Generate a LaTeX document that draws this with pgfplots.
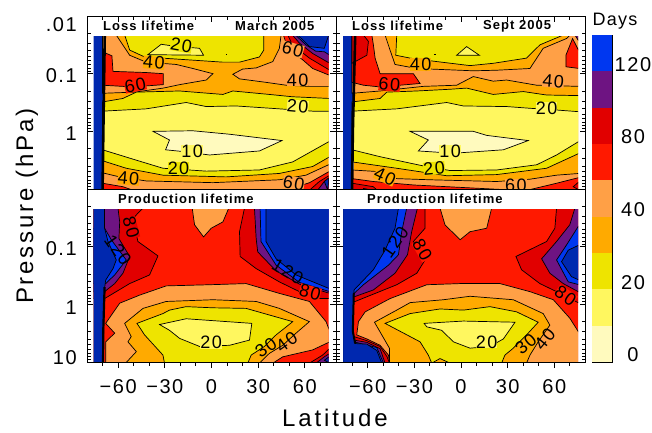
\documentclass[border=0pt]{standalone}
\usepackage{fontspec}
\usepackage{pgfplots}
\pgfplotsset{compat=1.18}
\setmainfont{Liberation Sans}
\newfontfamily\tickfam[LetterSpace=8]{Liberation Sans}
\newfontfamily\axfam[LetterSpace=12]{Liberation Sans}
\newfontfamily\daysfam[LetterSpace=7]{Liberation Sans}
\newfontfamily\titlefam[LetterSpace=8,BoldFont={Liberation Sans Bold}]{Liberation Sans}
\newcommand{\tickf}{\tickfam\fontsize{20}{20}\selectfont}
\newcommand{\labf}{\tickfam\fontsize{18}{18}\selectfont}
\newcommand{\sh}[2]{\raisebox{#1}[14pt][0pt]{#2}}
\definecolor{cA}{RGB}{255,250,190}
\definecolor{cB}{RGB}{255,247,95}
\definecolor{cC}{RGB}{238,228,0}
\definecolor{cD}{RGB}{255,170,0}
\definecolor{cE}{RGB}{255,160,70}
\definecolor{cF}{RGB}{255,25,0}
\definecolor{cG}{RGB}{225,0,0}
\definecolor{cH}{RGB}{110,20,130}
\definecolor{cI}{RGB}{0,55,240}
\definecolor{cJ}{RGB}{0,40,175}
\newcommand{\poly}[2]{\addplot[fill=#1,draw=black,line width=.7pt] coordinates {#2} -- cycle;}
\newcommand{\solid}[2]{\addplot[fill=#1,draw=none] coordinates {#2} -- cycle;}
\newcommand{\minorlist}{-1.699,-1.523,-1.398,-1.301,-1.222,-1.155,-1.097,-1.046,-0.699,-0.523,-0.398,-0.301,-0.222,-0.155,-0.097,-0.046,0.301,0.477,0.602,0.699,0.778,0.845,0.903,0.954}
\tikzset{lab/.style={font=\labf,inner sep=0pt,fill=#1},labn/.style={font=\labf,inner sep=0pt}}
\pgfplotsset{
 inner/.style={scale only axis,hide axis,anchor=south west,width=235.15pt,height=152.8pt,y dir=reverse,
   xmin=-75.8,xmax=75.3,ymin=-1.65,ymax=1,clip=true},
 frame/.style={scale only axis,anchor=south west,width=249pt,height=173pt,y dir=reverse,
   xmin=-80,xmax=80,ymin=-2,ymax=1,clip=false,axis line style={line width=1pt},
   xtick={-60,-30,0,30,60},minor xtick={-70,-50,-40,-20,-10,10,20,40,50,70},
   minor ytick=\minorlist,ytick pos=both,ytick align=inside,
   every tick/.style={black,line width=.9pt},
   major tick length=6pt,minor tick length=3.5pt,
   ticklabel style={font=\tickf},
   yticklabel style={inner sep=0pt,xshift=-10pt},
   xticklabel style={inner sep=0pt,yshift=-11pt}},
 topf/.style={frame,xtick pos=top,xtick align=inside,xticklabels={},
   ytick={-2,-1,0}},
 botf/.style={frame,xtick pos=bottom,xtick align=outside,
   xticklabels={−60,−30,0,30,60},ytick={-1,0,1}},
}
\begin{document}
\begin{tikzpicture}
\path[use as bounding box] (0,0) rectangle (652pt,432pt);
% ---------- top left: loss lifetime, March 2005 ----------
\begin{axis}[inner,at={(93.54pt,243pt)}]
\solid{cJ}{(-76,-1.67)(-68.5,-1.67)(-69.5,0)(-70,1)(-76,1)}
\solid{cD}{(-69,-1.67)(76,-1.67)(76,1)(-69,1)}
\poly{cE}{(-70,-1.67)(-61.2,-1.67)(-57,-1.5)(-52.6,-1.32)(-42,-1.2)(-22.7,-1.16)(-12,-1.09)(0.9,-1)(-3.4,-.89)(-20.5,-.81)(-31,-.75)(-49.4,-.68)(-70,-.66)}
\poly{cC}{(-55.8,-1.67)(-52.6,-1.41)(-43,-1.29)(-20.5,-1.25)(7.3,-1.2)(18,-1.2)(30.8,-1.29)(33.6,-1.41)(33.6,-1.67)}
\poly{cB}{(-40.9,-1.33)(-32.3,-1.51)(-24.8,-1.48)(-7.7,-1.44)(-5.1,-1.32)}
\poly{cF}{(-70,-1.38)(-64,-1.31)(-63.3,-1.04)(-42,-1.02)(-31,-1)(-31,-.81)(-50.5,-.77)(-70,-.8)}
\poly{cE}{(44.7,-1.67)(43.6,-1.44)(39.4,-1.21)(28.7,-1.1)(20,-1.08)(13.7,-.99)(18,-.91)(35,-.85)(48,-.8)(63,-.78)(76,-.78)(76,-1.67)}
\poly{cF}{(46.2,-1.67)(49,-1.44)(58.6,-1.24)(65,-1.09)(76,-.97)(76,-1.67)}
\poly{cG}{(49,-1.67)(52,-1.5)(62.9,-1.27)(76,-1.06)(76,-1.67)}
\poly{cH}{(52,-1.67)(56.5,-1.53)(65,-1.35)(76,-1.18)(76,-1.67)}
\poly{cI}{(54,-1.67)(60.7,-1.5)(67,-1.39)(72.5,-1.38)(76,-1.32)(76,-1.67)}
\poly{cJ}{(55.4,-1.67)(63,-1.47)(72.5,-1.44)(75.3,-1.67)}
\addplot[black,line width=1.2pt] coordinates {(9.2,-1.33)(10,-1.33)};
\poly{cC}{(-70,-.51)(-57,-.57)(-48.3,-.68)(-20.5,-.7)(7.3,-.64)(13.7,-.7)(37.2,-.64)(52,-.6)(76,-.57)(76,.44)(65,.61)(43.6,.73)(9.4,.79)(-31.2,.76)(-54.8,.64)(-70,.51)}
\poly{cB}{(-70,-.35)(-42,-.39)(-16.3,-.5)(-3.4,-.43)(15.8,-.44)(43.6,-.39)(65,-.35)(76,-.35)(76,.17)(52.2,.53)(30.8,.67)(-3.4,.69)(-31.2,.64)(-48.3,.5)(-70,.32)}
\poly{cA}{(-37.6,0)(-12,-.01)(11.6,.05)(45.3,.16)(30.8,.34)(-1.3,.41)(-18.4,.35)(-29.5,.32)(-27,.15)}
\poly{cE}{(-70,.72)(-59,.79)(-42,.86)(0.9,.89)(43.6,.84)(60.7,.76)(76,.57)(76,1.02)(-70,1.02)}
\poly{cF}{(-70,.9)(-57,.96)(-50.5,1.02)(-70,1.02)}
\poly{cF}{(48,1.02)(63,.89)(76,.69)(76,1.02)}
\poly{cG}{(63,1.02)(69.3,.87)(76,.76)(76,1.02)}
\poly{cH}{(68.2,1.02)(72.5,.87)(76,.8)(76,1.02)}
\poly{cJ}{(72.5,.87)(75.3,.81)(74.7,1.02)}
\addplot[black,line width=2.6pt] coordinates {(-68.6,-1.67)(-69.5,0)(-70,1)};
\end{axis}
\begin{axis}[topf,at={(87pt,243pt)},yticklabels={\sh{-8pt}{.01},\sh{-2pt}{0.1},\sh{-2pt}{1}}]
\node[lab=cC,rotate=-10] at (axis cs:-19.5,-1.49) {20};
\node[lab=cD,rotate=-5] at (axis cs:-37,-1.19) {40};
\node[lab=cF,rotate=12] at (axis cs:-49,-.8) {60};
\node[lab=cE,rotate=-15] at (axis cs:52.2,-1.42) {60};
\node[lab=cE] at (axis cs:55.4,-.89) {40};
\node[lab=cB,rotate=-5] at (axis cs:55.4,-.43) {20};
\node[lab=cB] at (axis cs:-12.4,.35) {10};
\node[lab=cC] at (axis cs:-21.2,.64) {20};
\node[lab=cD,rotate=-5] at (axis cs:-53.3,.82) {40};
\node[lab=cE,rotate=-10] at (axis cs:52.8,.9) {60};
\end{axis}
% ---------- top right: loss lifetime, Sept 2005 ----------
\begin{axis}[inner,at={(343.04pt,243pt)}]
\solid{cJ}{(-76,-1.67)(-68,-1.67)(-69.5,0)(-70,1)(-76,1)}
\solid{cD}{(-69,-1.67)(76,-1.67)(76,1)(-69,1)}
\poly{cE}{(-70,-1.67)(-48.8,-1.67)(-45.6,-1.41)(-42.4,-1.16)(-28.4,-1.09)(7.9,-1.05)(22.9,-1.06)(44.3,-1.09)(52.8,-1.44)(67.8,-1.61)(70,-1.67)(76,-1.67)(76,-.78)(48.6,-.8)(29.3,-.89)(20.7,-.87)(7.9,-.95)(-2.8,-.8)(-24.2,-.78)(-52,-.7)(-70,-.66)}
\poly{cC}{(-41.3,-1.67)(-41.9,-1.32)(-32.7,-1.27)(-15.6,-1.21)(5.8,-1.14)(20.7,-1.18)(42.1,-1.27)(50.7,-1.5)(65.7,-1.67)}
\poly{cB}{(-2.8,-1.32)(3.6,-1.47)(11.8,-1.32)}
\addplot[black,line width=1.2pt] coordinates {(-17.5,-1.33)(-16,-1.33)};
\poly{cF}{(-70,-1.67)(-57.3,-1.67)(-56.3,-1.5)(-55.2,-1.27)(-52,-1)(-30.6,-1)(-26.3,-.83)(-52,-.77)(-62.7,-.8)(-70,-.85)}
\poly{cG}{(-70,-1.67)(-62.7,-1.67)(-59.5,-1.56)(-60.5,-1.32)(-70,-1.18)}
\poly{cF}{(67.4,-1.32)(71.7,-1.61)(76,-1.38)(76,-1.09)(67.4,-1.12)}
\poly{cH}{(73.2,-1.67)(76,-1.67)(76,-1.55)}
\poly{cC}{(-70,-.51)(-52,-.57)(-47.7,-.68)(-28.4,-.7)(-7,-.73)(3.6,-.75)(20.7,-.64)(40,-.69)(55,-.63)(76,-.62)(76,.38)(55,.64)(22.9,.75)(-9.2,.77)(-41.3,.64)(-70,.53)}
\poly{cB}{(-70,-.35)(-41.3,-.39)(-9.2,-.5)(1.5,-.44)(29.3,-.43)(44.3,-.4)(61.4,-.37)(76,-.34)(76,.17)(61.4,.41)(48.6,.58)(22.9,.67)(-7,.68)(-24.2,.6)(-52,.44)(-70,.32)}
\poly{cA}{(-32.7,0)(7.9,0)(16.5,.07)(43.2,.16)(27.2,.32)(-4.9,.38)(-27.4,.34)(-21,.15)}
\poly{cE}{(-70,.67)(-52,.7)(-41.3,.82)(-19.9,.84)(22.9,.87)(44.3,.83)(61.4,.76)(76,.73)(76,1.02)(-70,1.02)}
\poly{cF}{(-70,.82)(-56.3,.87)(-30.6,.93)(27.2,1.01)(44.3,1.01)(61.4,.9)(76,.8)(76,1.02)(-70,1.02)}
\poly{cG}{(-70,.9)(-56.3,.96)(-54,1.02)(-70,1.02)}
\poly{cH}{(-62.7,.99)(-57,1.02)(-62.7,1.02)}
\poly{cG}{(72.1,.96)(76,.87)(76,1.02)}
\addplot[black,line width=2.6pt] coordinates {(-68,-1.67)(-69.5,0)(-70,1)};
\end{axis}
\begin{axis}[topf,at={(336.5pt,243pt)},yticklabels={}]
\node[lab=cD] at (axis cs:-25.9,-1.16) {40};
\node[lab=cF,rotate=-5] at (axis cs:-46,-.81) {60};
\node[lab=cE,rotate=-5] at (axis cs:59.3,-.87) {40};
\node[lab=cB] at (axis cs:55,-.4) {20};
\node[lab=cB] at (axis cs:-7,.34) {10};
\node[lab=cC,rotate=5] at (axis cs:-17.3,.64) {20};
\node[lab=cD,rotate=-25] at (axis cs:-48.8,.78) {40};
\node[lab=cE] at (axis cs:35.3,.93) {60};
\end{axis}
% white band that ends the upper panels
\fill[white] (88pt,224pt) rectangle (584pt,242.5pt);
% ---------- bottom left: production lifetime, March ----------
\begin{axis}[inner,at={(93.54pt,70pt)}]
\solid{cF}{(-76,-1.67)(76,-1.67)(76,1.02)(-76,1.02)}
\poly{cG}{(-76,-1.67)(-44,-1.67)(-50.5,-1.49)(-47.3,-1.09)(-34.4,-.84)(-39.8,-.51)(-52.6,-.36)(-68.7,-.1)(-76,-.1)}
\poly{cH}{(-76,-1.67)(-60.1,-1.67)(-59,-1.43)(-59.5,-1.14)(-52.6,-.83)(-56.9,-.54)(-62.2,-.36)(-68.7,-.22)(-76,-.22)}
\poly{cI}{(-68.7,-1.32)(-64.4,-1.12)(-54.8,-.77)(-62.2,-.51)(-68,-.36)(-76,-.36)(-76,-1.32)}
\poly{cE}{(-12.4,-1.67)(-10.9,-1.38)(-5.1,-1.17)(-.2,-1.32)(7.3,-1.43)(11.1,-1.67)}
\poly{cG}{(21.2,-1.67)(18,-1.26)(18.4,-.83)(28.7,-.62)(43.6,-.39)(56.5,-.22)(69.3,-.1)(76,-.1)(76,-1.67)}
\poly{cH}{(27.6,-1.67)(28.7,-1.14)(29.7,-.91)(41.5,-.58)(56.5,-.35)(76,-.19)(76,-1.67)}
\poly{cI}{(31.2,-1.67)(31.8,-1.09)(41.5,-.68)(56.5,-.38)(76,-.22)(76,-1.67)}
\poly{cJ}{(35,-1.67)(35,-1.09)(41.5,-.79)(54.3,-.51)(76,-.27)(76,-1.67)}
\poly{cE}{(-59,-.02)(-46.2,-.16)(-29.1,-.32)(-1.3,-.34)(22.2,-.36)(43.6,-.19)(62.9,-.05)(73.6,.3)(76,.47)(76,.65)(65,.79)(45.8,.91)(39.4,1.02)(-68,1.02)(-68,.65)(-62.2,.5)(-68,.33)}
\poly{cD}{(-55.8,.33)(-44,.07)(-29.1,-.05)(.9,-.08)(28.7,-.05)(43.6,.07)(62.9,.3)(54.3,.5)(45.8,.71)(37.2,.85)(30.8,1.02)(-55.2,1.02)(-48.3,.82)(-53.7,.65)(-51.6,.56)}
\poly{cC}{(-47.9,.33)(-31.2,.16)(-27,.1)(-16.3,.04)(.9,.06)(22.2,.07)(52.2,.3)(41.5,.53)(34,.73)(25.5,.88)(23.3,1.02)(-30.2,1.02)(-31.2,.88)(-43,.53)}
\poly{cB}{(-33.4,.35)(-16.3,.25)(25.9,.33)(24.4,.62)(11.6,.71)(-7.7,.73)(-20.5,.59)(-27,.45)}
\poly{cG}{(62.9,1.02)(71.4,.88)(76,.76)(76,1.02)}
\poly{cH}{(67.2,1.02)(72.5,.91)(76,.85)(76,1.02)}
\poly{cJ}{(72.5,.97)(76,.9)(76,1.02)}
\poly{cJ}{(-76,-1.67)(-68.7,-1.67)(-68.7,-1.32)(-66.5,-1.09)(-61.2,-.77)(-63.3,-.62)(-68,-.42)(-68.7,-.28)(-69.7,1.02)(-76,1.02)}
\addplot[black,line width=2.2pt] coordinates {(-68.7,-.3)(-69.5,.4)(-69.7,1)};
\end{axis}
\begin{axis}[botf,at={(87pt,70pt)},yticklabels={\sh{-2pt}{0.1},\sh{-3pt}{1},\sh{5pt}{10}}]
\node[lab=cG,rotate=-75] at (axis cs:-51.6,-1.33) {80};
\node[labn,rotate=-55] at (axis cs:-60.1,-.94) {120};
\node[labn,rotate=-30] at (axis cs:49,-.57) {120};
\node[lab=cF,rotate=-15] at (axis cs:63.3,-.21) {80};
\node[lab=cB] at (axis cs:-.2,.66) {20};
\node[labn,rotate=35] at (axis cs:35,.75) {30};
\node[labn,rotate=35] at (axis cs:48.3,.65) {40};
\end{axis}
% ---------- bottom right: production lifetime, Sept ----------
\begin{axis}[inner,at={(343.04pt,70pt)}]
\solid{cF}{(-76,-1.67)(76,-1.67)(76,1.02)(-76,1.02)}
\poly{cG}{(-76,-1.67)(-23.1,-1.67)(-23.1,-1.32)(-30.6,-1.09)(-23.1,-.77)(-28.4,-.54)(-41.3,-.34)(-68,-.05)(-76,-.05)}
\poly{cH}{(-76,-1.67)(-28,-1.67)(-31.7,-1.26)(-34.4,-.86)(-42.4,-.54)(-56.3,-.25)(-68.7,-.13)(-76,-.13)}
\poly{cI}{(-76,-1.67)(-34.9,-1.67)(-38.1,-1.26)(-40.2,-.86)(-46.6,-.68)(-62.7,-.34)(-68.7,-.19)(-76,-.19)}
\poly{cE}{(-61.6,.13)(-45.6,-.1)(-22,-.34)(-.6,-.36)(25,-.36)(44.3,-.22)(59.3,-.08)(69.9,.24)(76,.5)(76,1.02)(-46,1.02)(-46.6,.88)(-52,.71)(-60.5,.6)(-67,.53)(-65.9,.3)}
\poly{cD}{(-55.6,.31)(-41.3,.1)(-32.7,-.03)(-11.3,-.08)(5.8,-.14)(33.6,-.08)(52.8,.16)(57.1,.36)(49.6,.65)(44.3,.88)(42.1,1.02)(-46,1.02)(-46,.76)(-50.9,.53)}
\poly{cC}{(-48.8,.33)(-32.7,.16)(-13.5,.08)(1.5,.1)(18.6,.04)(35.7,.13)(49.6,.31)(42.1,.53)(33.6,.76)(28.2,.88)(26.1,1.02)(-7,1.02)(-13.5,.94)(-18.8,1.02)(-21,.88)(-26.3,.65)}
\poly{cB}{(-23.7,.33)(1.5,.29)(34.7,.31)(27.2,.6)(18.6,.73)(5.8,.76)(-4.9,.65)(-12.4,.45)(-22,.39)}
\poly{cE}{(-13.5,-1.67)(-10.3,-1.38)(-.6,-1.12)(5.8,-1.26)(16.5,-1.32)(19.7,-1.67)}
\poly{cG}{(61.4,-1.67)(60.3,-1.32)(55,-1.09)(35.3,-.83)(38.9,-.6)(50.7,-.36)(61.4,-.22)(76,-.02)(76,-1.67)}
\poly{cH}{(73.2,-1.67)(69.9,-1.38)(61.4,-1.09)(51.8,-.79)(57.1,-.54)(65.7,-.36)(76,-.21)(76,-1.67)}
\poly{cI}{(76,-1.38)(67.8,-1.03)(61.4,-.77)(68.9,-.39)(76,-.34)}
\poly{cJ}{(76,-1.03)(68.9,-.94)(64.6,-.74)(71,-.48)(76,-.42)}
\poly{cG}{(-68.7,.56)(-60.5,.63)(-52,.73)(-47.5,.91)(-46,1.02)(-70,1.02)}
\poly{cH}{(-68.7,.62)(-60.5,.66)(-52,.77)(-48.8,1.02)(-70,1.02)}
\poly{cI}{(-68.7,.65)(-54.1,.75)(-49.8,1.02)(-70,1.02)}
\poly{cJ}{(-76,-1.67)(-40.2,-1.67)(-42.4,-1.32)(-48.8,-.94)(-56.3,-.6)(-68.7,-.25)(-69.5,.47)(-68,.68)(-60.5,.69)(-54.1,.8)(-50.9,1.02)(-76,1.02)}
\addplot[black,line width=2pt] coordinates {(-68.9,-.2)(-69.5,.47)(-68,.68)};
\end{axis}
\begin{axis}[botf,at={(336.5pt,70pt)},yticklabels={}]
\node[labn,rotate=55] at (axis cs:-42.4,-1.08) {120};
\node[lab=cF,rotate=-60] at (axis cs:-24.8,-.94) {80};
\node[lab=cF,rotate=-35] at (axis cs:67.2,-.15) {80};
\node[lab=cB] at (axis cs:16.5,.65) {20};
\node[labn,rotate=40] at (axis cs:41.7,.69) {30};
\node[labn,rotate=50] at (axis cs:53.9,.6) {40};
\end{axis}
% ---------- colour bar ----------
\begin{axis}[scale only axis,anchor=south west,at={(592pt,70pt)},width=20pt,height=327pt,
  xmin=0,xmax=1,ymin=0,ymax=9,xtick=\empty,ytick={0,2,4,6,8},yticklabels={0,20,40,80,120},
  ytick pos=right,major tick length=0pt,axis line style={line width=1pt},
  ticklabel style={font=\tickf},yticklabel style={anchor=center,xshift=21pt,yshift=7pt}]
\solid{cA}{(0,0)(1,0)(1,1)(0,1)}
\solid{cB}{(0,1)(1,1)(1,2)(0,2)}
\solid{cC}{(0,2)(1,2)(1,3)(0,3)}
\solid{cD}{(0,3)(1,3)(1,4)(0,4)}
\solid{cE}{(0,4)(1,4)(1,5)(0,5)}
\solid{cF}{(0,5)(1,5)(1,6)(0,6)}
\solid{cG}{(0,6)(1,6)(1,7)(0,7)}
\solid{cH}{(0,7)(1,7)(1,8)(0,8)}
\solid{cI}{(0,8)(1,8)(1,9)(0,9)}
\end{axis}
% ---------- texts ----------
\node[font=\axfam\fontsize{24}{24}\selectfont,rotate=90] at (27pt,226pt) {Pressure (hPa)};
\node[font=\axfam\fontsize{24}{24}\selectfont] at (335pt,14pt) {Latitude};
\node[font=\daysfam\fontsize{18}{18}\selectfont] at (615pt,411pt) {Days};
\tikzset{ttl/.style={font=\titlefam\bfseries\fontsize{13}{13}\selectfont,anchor=west,inner sep=0pt}}
\node[ttl] at (103pt,406pt) {Loss lifetime};
\node[ttl] at (235pt,406pt) {March 2005};
\node[ttl] at (352pt,406pt) {Loss lifetime};
\node[ttl] at (483pt,406pt) {Sept 2005};
\node[ttl] at (118pt,233pt) {Production lifetime};
\node[ttl] at (367pt,233pt) {Production lifetime};
\end{tikzpicture}
\end{document}
